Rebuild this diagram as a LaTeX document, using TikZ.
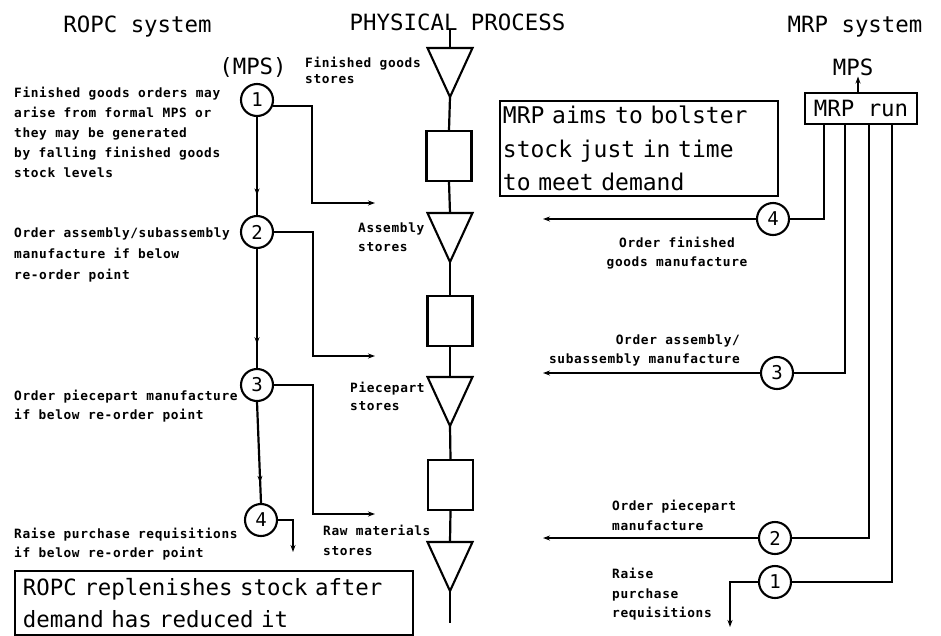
\documentclass[tikz,border=0pt]{standalone}
\usepackage{fontspec}
\newfontfamily\bigf{DejaVu Sans Mono}
\newfontfamily\smallf{DejaVu Sans Mono}[LetterSpace=5]
\usetikzlibrary{arrows.meta,decorations.markings}
\begin{document}
\begin{tikzpicture}[x=1pt,y=-1pt,
  conn/.style={line width=2.2pt},
  >={Stealth[length=7pt,width=5pt]},
  marr/.style={postaction={decorate},decoration={markings,mark=at position #1 with {\arrow{Stealth[length=7pt,width=5pt]}}}},
  big/.style={font=\bigf\fontsize{22.4}{33.5}\selectfont, inner sep=1pt},
  small/.style={font=\smallf\bfseries\fontsize{12.8}{#1}\selectfont, inner sep=0pt, align=left},
  small/.default=20,
  circ/.style={circle, draw, line width=2.1pt, minimum size=32pt, inner sep=0pt, font=\bigf\fontsize{19}{19}\selectfont},
  pbox/.style={draw, line width=2.1pt, minimum width=45pt, minimum height=50pt, inner sep=0pt},
  tri/.style={draw, line width=2.1pt, line join=miter},
  note/.style={draw, line width=1.9pt, anchor=north west, align=left, inner ysep=2pt}
]
\useasboundingbox (0,0) rectangle (941,635);
\fill[white] (0,0) rectangle (941,635);

% titles
\node[big, anchor=base] (tropc) at (137.5,32) {ROPC system};
\node[big, anchor=base] (tphys) at (457.5,30) {PHYSICAL PROCESS};
\node[big, anchor=base] (tmrp) at (855,32) {MRP system};
\node[big, anchor=base] (mpsL) at (253,74) {(MPS)};
\node[big, anchor=base] (mpsR) at (853,75) {MPS};

% ROPC circles
\node[circ] (L1) at (257,100) {1};
\node[circ] (L2) at (257,232) {2};
\node[circ] (L3) at (257,385) {3};
\node[circ] (L4) at (261,520) {4};

\draw[conn, marr=0.8] (L1.south) -- (L2.north);
\draw[conn, marr=0.8] (L2.south) -- (L3.north);
\draw[conn, marr=0.8] (L3.south) -- (L4.north);

\coordinate (k1) at (312,203); \coordinate (a1) at (375,203);
\coordinate (k2) at (313,356); \coordinate (a2) at (375,356);
\coordinate (k3) at (313,514); \coordinate (a3) at (375,514);
\coordinate (k4) at (293,552);
\draw[conn, ->] (L1.-20) -| (k1) -- (a1);
\draw[conn, ->] (L2.east) -| (k2) -- (a2);
\draw[conn, ->] (L3.east) -| (k3) -- (a3);
\draw[conn, ->] (L4.east) -| (k4);

% ROPC texts
\node[small, anchor=north west] (txL1) at (14,87) {Finished goods orders may\\arise from formal MPS or\\they may be generated\\by falling finished goods\\stock levels};
\node[small=21, anchor=north west] (txL2) at (14,228) {Order assembly/subassembly\\manufacture if below\\re-order point};
\node[small=19, anchor=north west] (txL3) at (14,390) {Order piecepart manufacture\\if below re-order point};
\node[small=19, anchor=north west] (txL4) at (14,528) {Raise purchase requisitions\\if below re-order point};

% physical process
\coordinate (ptop) at (450,30);
\coordinate (T1top) at (450,48);  \coordinate (T1ap) at (450,97);
\coordinate (T2top) at (450,213); \coordinate (T2ap) at (450,262);
\coordinate (T3top) at (450,377); \coordinate (T3ap) at (450,426);
\coordinate (T4top) at (450,542); \coordinate (T4ap) at (450,591);
\coordinate (pbot) at (450,623);
\draw[tri] (427.5,48) -- (472.5,48) -- (T1ap) -- cycle;
\draw[tri] (427.5,213) -- (472.5,213) -- (T2ap) -- cycle;
\draw[tri] (427.5,377) -- (472.5,377) -- (T3ap) -- cycle;
\draw[tri] (427.5,542) -- (472.5,542) -- (T4ap) -- cycle;
\node[pbox] (B1) at (449,156) {};
\node[pbox] (B2) at (450,321) {};
\node[pbox] (B3) at (450.5,485) {};
\draw[conn] (ptop) -- (T1top);
\draw[conn] (T1ap) -- (B1.north);
\draw[conn] (B1.south) -- (T2top);
\draw[conn] (T2ap) -- (B2.north);
\draw[conn] (B2.south) -- (T3top);
\draw[conn] (T3ap) -- (B3.north);
\draw[conn] (B3.south) -- (T4top);
\draw[conn] (T4ap) -- (pbot);

\node[small=16, anchor=north west] (txP1) at (305,57) {Finished goods\\stores};
\node[small=19, anchor=north west] (txP2) at (358,223) {Assembly\\stores};
\node[small=18, anchor=north west] (txP3) at (350,382) {Piecepart\\stores};
\node[small=20, anchor=north west] (txP4) at (323,525) {Raw materials\\stores};

% MRP side
\node[draw, line width=1.9pt, minimum width=112pt, minimum height=31pt, inner sep=0pt, font=\bigf\fontsize{22.4}{22.4}\selectfont] (run) at (861,108.5) {MRP run};
\coordinate (rn) at ([xshift=-3pt]run.north);
\draw[line width=1.6pt, ->] (rn) -- (rn |- mpsR.south);

\node[circ] (R4) at (773,219) {4};
\node[circ] (R3) at (777,373) {3};
\node[circ] (R2) at (775,538) {2};
\node[circ] (R1) at (775,582) {1};
\coordinate (e4) at (543,219);
\coordinate (e3) at (543,373);
\coordinate (e2) at (543,538);
\coordinate (e1) at (730,627);
\draw[conn] ([xshift=20pt]run.south west) |- (R4.east);
\draw[conn] ([xshift=41pt]run.south west) |- (R3.east);
\draw[conn] ([xshift=65pt]run.south west) |- (R2.east);
\draw[conn] ([xshift=88pt]run.south west) |- (R1.east);
\draw[conn, ->] (R4.west) -- (e4);
\draw[conn, ->] (R3.west) -- (e3);
\draw[conn, ->] (R2.west) -- (e2);
\draw[conn, ->] (R1.west) -| (e1);

\node[small=19, anchor=north, align=center] (txR4) at (677,237) {Order finished\\goods manufacture};
\node[small=19, anchor=north east, align=right] (txR3) at (740,335) {Order assembly/\\subassembly manufacture};
\node[small=20, anchor=north west] (txR2) at (612,500) {Order piecepart\\manufacture};
\node[small=19.5, anchor=north west] (txR1) at (612,568) {Raise\\purchase\\requisitions};

% notes
\node[note, text width=272pt, inner xsep=3pt, minimum height=95pt, font=\bigf\fontsize{23}{33.5}\selectfont] (mrpnote) at (499,100) {MRP aims to bolster\\stock just in time\\to meet demand};
\node[note, text width=382pt, inner xsep=8pt, minimum height=64pt, font=\bigf\fontsize{22.4}{32}\selectfont] (ropcnote) at (14,570) {ROPC replenishes stock after\\demand has reduced it};
\end{tikzpicture}
\end{document}
